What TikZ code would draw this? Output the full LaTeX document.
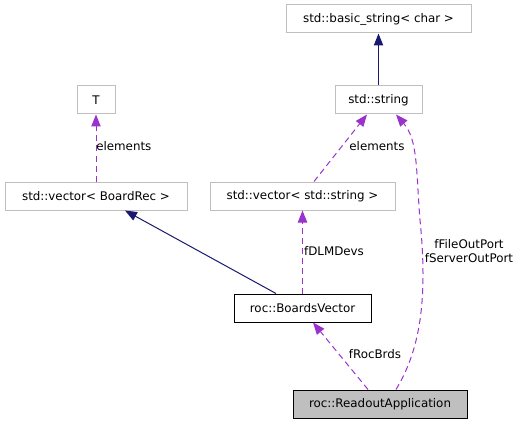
\documentclass[tikz,border=0pt]{standalone}
\usepackage{fontspec}
\setmainfont{DejaVu Sans}
\usetikzlibrary{arrows.meta}
\definecolor{boxgray}{HTML}{BFBFBF}
\definecolor{edgepurple}{HTML}{9A32CD}
\definecolor{edgenavy}{HTML}{191970}
\tikzset{
  cls/.style={draw=boxgray, line width=0.75pt, inner sep=0pt, font=\fontsize{8.9pt}{10.5pt}\selectfont},
  clsdoc/.style={cls, draw=black},
  usage/.style={draw=edgepurple, dashed, dash pattern=on 4.5pt off 3pt, line width=0.75pt, -{Triangle[width=7pt,length=9pt]}, edgepurple},
  inherit/.style={draw=edgenavy, line width=0.75pt, -{Triangle[width=7pt,length=9pt]}, edgenavy},
  lbl/.style={font=\fontsize{8.9pt}{10.5pt}\selectfont, inner sep=0pt, align=center}
}
\begin{document}
\begin{tikzpicture}[x=0.75pt,y=-0.75pt]
\useasboundingbox (0,0) rectangle (524,424);
\node[cls, minimum width=185*0.75pt, minimum height=28*0.75pt] (bs) at (378.5,19) {std::basic\_string< char >};
\node[cls, minimum width=87*0.75pt, minimum height=28*0.75pt] (str) at (378.5,100) {std::string};
\node[cls, minimum width=38*0.75pt, minimum height=28*0.75pt] (T) at (96,100) {T};
\node[cls, minimum width=182*0.75pt, minimum height=28*0.75pt] (vbr) at (96,196) {std::vector< BoardRec >};
\node[cls, minimum width=185*0.75pt, minimum height=28*0.75pt] (vstr) at (302.5,196) {std::vector< std::string >};
\node[clsdoc, minimum width=137*0.75pt, minimum height=28*0.75pt] (bv) at (302.5,308) {roc::BoardsVector};
\node[clsdoc, fill=boxgray, minimum width=174*0.75pt, minimum height=28*0.75pt] (ra) at (380,404) {roc::ReadoutApplication};
\draw[inherit] (str.north) -- (bs.south);
\draw[inherit] (bv.north west -| 276,0) -- (vbr.south east -| 125,0);
\draw[usage] (vbr.north) -- (T.south);
\draw[usage] (vstr.north west -| 314,0) -- (str.south west -| 367,0);
\draw[usage] (bv.north) -- (vstr.south);
\draw[usage] (ra.north west -| 368,0) -- (bv.south west -| 313,0);
\draw[usage] (ra.north west -| 396,0) .. controls (420,350) and (428,300) .. (420,220) .. controls (416,170) and (418,140) .. (str.south west -| 396,0);
\node[lbl, anchor=west] (l1) at (96,146) {elements};
\node[lbl] (l2) at (377,146) {elements};
\node[lbl] (l3) at (334,251) {fDLMDevs};
\node[lbl] (l4) at (375,354) {fRocBrds};
\node[lbl] (l5) at (469,251) {fFileOutPort\\fServerOutPort};
\end{tikzpicture}
\end{document}
